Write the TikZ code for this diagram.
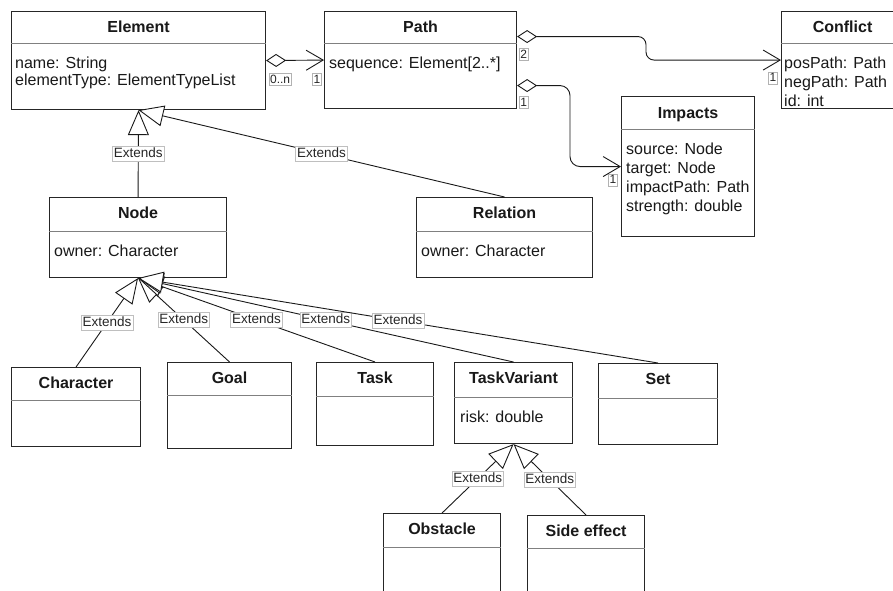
\documentclass[tikz,border=0pt]{standalone}
\usepackage{fontspec}
\setmainfont{Liberation Sans}
\usetikzlibrary{arrows.meta}
\begin{document}
\begin{tikzpicture}[x=1pt,y=-1pt,
  cls/.style={draw=black!85, line width=1.1pt, fill=white, inner sep=0pt, anchor=north west},
  sepl/.style={draw=black!50, line width=0.9pt},
  hdr/.style={font=\fontsize{16}{18}\selectfont\bfseries, inner sep=0pt, anchor=center, text=black!90, text height=11.5pt, text depth=0pt},
  attr/.style={font=\fontsize{16}{#1}\selectfont, align=left, inner sep=0pt, anchor=north west, text=black!90},
  attr/.default=18,
  gen/.style={draw=black!90, line width=0.9pt, -{Triangle[length=25pt,width=21pt,fill=white]}},
  agg/.style={draw=black!90, line width=0.9pt, rounded corners=#1, {Diamond[length=20pt,width=13pt,fill=white]}-{Straight Barb[length=17pt,width=20pt]}},
  agg/.default=8pt,
  ext/.style={draw=black!25, fill=white, line width=0.6pt, inner xsep=1.5pt, inner ysep=1.2pt, font=\fontsize{13.5}{14}\selectfont, text=black!85, text height=10pt, text depth=2.6pt},
  mult/.style={draw=black!30, fill=white, line width=0.6pt, inner xsep=1pt, inner ysep=0.8pt, font=\fontsize{12}{13}\selectfont, text=black!85, text height=8.8pt, text depth=1.5pt}
]
\useasboundingbox (0,0) rectangle (893,590);
\clip (0,0) rectangle (893,590);
\fill[white] (0,0) rectangle (893,590);

% ---------- Element
\node[cls, minimum width=254pt, minimum height=98pt] (Element) at (11,11) {};
\draw[sepl] ([yshift=-32pt]Element.north west) -- ([yshift=-32pt]Element.north east);
\node[hdr] (ElementH) at ([yshift=-16pt]Element.north) {Element};
\node[attr=17pt] (ElementA) at (15,56.4) {name: String\\elementType: ElementTypeList};

% ---------- Path
\node[cls, minimum width=192pt, minimum height=97pt] (Path) at (324,11) {};
\draw[sepl] ([yshift=-32pt]Path.north west) -- ([yshift=-32pt]Path.north east);
\node[hdr] (PathH) at ([yshift=-16pt]Path.north) {Path};
\node[attr] (PathA) at (329,56.4) {sequence: Element[2..*]};

% ---------- Conflict
\node[cls, minimum width=122pt, minimum height=97pt] (Conflict) at (781,11) {};
\draw[sepl] ([yshift=-32pt]Conflict.north west) -- ([yshift=-32pt]Conflict.north east);
\node[hdr] (ConflictH) at ([yshift=-16pt]Conflict.north) {Conflict};
\node[attr=19pt] (ConflictA) at (784,56.4) {posPath: Path\\negPath: Path\\id: int};

% ---------- Impacts
\node[cls, minimum width=133pt, minimum height=140pt] (Impacts) at (621,96) {};
\draw[sepl] ([yshift=-33pt]Impacts.north west) -- ([yshift=-33pt]Impacts.north east);
\node[hdr] (ImpactsH) at ([yshift=-16.5pt]Impacts.north) {Impacts};
\node[attr=19pt] (ImpactsA) at (626,142.4) {source: Node\\target: Node\\impactPath: Path\\strength: double};

% ---------- Node
\node[cls, minimum width=177pt, minimum height=80pt] (Node) at (49,197) {};
\draw[sepl] ([yshift=-34pt]Node.north west) -- ([yshift=-34pt]Node.north east);
\node[hdr] (NodeH) at ([yshift=-16pt]Node.north) {Node};
\node[attr] (NodeA) at (54,244.4) {owner: Character};

% ---------- Relation
\node[cls, minimum width=176pt, minimum height=80pt] (Relation) at (416,197) {};
\draw[sepl] ([yshift=-34pt]Relation.north west) -- ([yshift=-34pt]Relation.north east);
\node[hdr] (RelationH) at ([yshift=-16pt]Relation.north) {Relation};
\node[attr] (RelationA) at (421,244.4) {owner: Character};

% ---------- Character
\node[cls, minimum width=129pt, minimum height=79pt] (Character) at (11,367) {};
\draw[sepl] ([yshift=-33pt]Character.north west) -- ([yshift=-33pt]Character.north east);
\node[hdr] (CharacterH) at ([yshift=-16pt]Character.north) {Character};

% ---------- Goal
\node[cls, minimum width=124pt, minimum height=86pt] (Goal) at (167,362) {};
\draw[sepl] ([yshift=-33pt]Goal.north west) -- ([yshift=-33pt]Goal.north east);
\node[hdr] (GoalH) at ([yshift=-16pt]Goal.north) {Goal};

% ---------- Task
\node[cls, minimum width=117pt, minimum height=83pt] (Task) at (316,362) {};
\draw[sepl] ([yshift=-34pt]Task.north west) -- ([yshift=-34pt]Task.north east);
\node[hdr] (TaskH) at ([yshift=-16pt]Task.north) {Task};

% ---------- TaskVariant
\node[cls, minimum width=118pt, minimum height=81pt] (TaskVariant) at (454,362) {};
\draw[sepl] ([yshift=-35pt]TaskVariant.north west) -- ([yshift=-35pt]TaskVariant.north east);
\node[hdr] (TaskVariantH) at ([yshift=-16pt]TaskVariant.north) {TaskVariant};
\node[attr] (TaskVariantA) at (460,410.4) {risk: double};

% ---------- Set
\node[cls, minimum width=119pt, minimum height=81pt] (Set) at (598,363) {};
\draw[sepl] ([yshift=-35pt]Set.north west) -- ([yshift=-35pt]Set.north east);
\node[hdr] (SetH) at ([yshift=-16pt]Set.north) {Set};

% ---------- Obstacle
\node[cls, minimum width=117pt, minimum height=100pt] (Obstacle) at (383,513) {};
\draw[sepl] ([yshift=-34pt]Obstacle.north west) -- ([yshift=-34pt]Obstacle.north east);
\node[hdr] (ObstacleH) at ([yshift=-16pt]Obstacle.north) {Obstacle};

% ---------- Side effect
\node[cls, minimum width=117pt, minimum height=100pt] (Side) at (527,515) {};
\draw[sepl] ([yshift=-33pt]Side.north west) -- ([yshift=-33pt]Side.north east);
\node[hdr] (SideH) at ([yshift=-16pt]Side.north) {Side effect};

% ---------- generalisations
\draw[gen] (Node.north) -- node[ext] (e1) {Extends} (Element.south);
\draw[gen] (Relation.north) -- node[ext] (e2) {Extends} (Element.south);
\draw[gen] (Character.north) -- node[ext] (e3) {Extends} (Node.south);
\draw[gen] (Goal.north) -- node[ext] (e4) {Extends} (Node.south);
\draw[gen] (Task.north) -- node[ext] (e5) {Extends} (Node.south);
\draw[gen] (TaskVariant.north) -- node[ext] (e6) {Extends} (Node.south);
\draw[gen] (Set.north) -- node[ext] (e7) {Extends} (Node.south);
\draw[gen] (Obstacle.north) -- node[ext] (e8) {Extends} (TaskVariant.south);
\draw[gen] (Side.north) -- node[ext] (e9) {Extends} (TaskVariant.south);

% ---------- aggregations
\draw[agg] (Element.east) -- (Path.west);
\draw[agg] ([yshift=23.5pt]Path.east) -| ([xshift=-135pt]Conflict.west) -- (Conflict.west);
\draw[agg=10pt] ([yshift=-25.5pt]Path.east) -| ([xshift=-51pt]Impacts.west) -- (Impacts.west);

% ---------- multiplicities
\node[mult] (m1) at ([shift={(14pt,-19pt)}]Element.east) {0..n};
\node[mult] (m2) at ([shift={(-7pt,-19.5pt)}]Path.west) {1};
\node[mult] (m3) at ([shift={(6.5pt,5.5pt)}]Path.east) {2};
\node[mult] (m4) at ([shift={(6.5pt,-42.5pt)}]Path.east) {1};
\node[mult] (m5) at ([shift={(-8pt,-18pt)}]Conflict.west) {1};
\node[mult] (m6) at ([shift={(-8pt,-13.5pt)}]Impacts.west) {1};
\end{tikzpicture}
\end{document}
